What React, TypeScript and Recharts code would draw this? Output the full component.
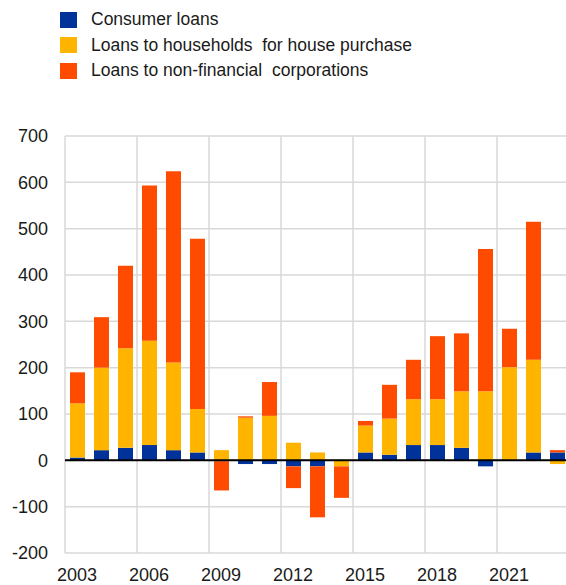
import { BarChart, Bar, XAxis, YAxis, CartesianGrid, ReferenceLine } from 'recharts'

const years = [
  '2003', '2004', '2005', '2006', '2007', '2008', '2009', '2010', '2011', '2012', '2013',
  '2014', '2015', '2016', '2017', '2018', '2019', '2020', '2021', '2022', '2023',
]
const consumerLoans = [6, 22, 27, 33, 22, 17, -2, -8, -8, -13, -13, 0, 17, 12, 33, 33, 27, -13, 1, 17, 17]
const housePurchase = [117, 178, 215, 225, 189, 94, 22, 92, 96, 38, 17, -13, 58, 78, 99, 99, 122, 149, 200, 200, -8]
const corporations = [67, 109, 178, 335, 413, 367, -63, 3, 73, -47, -110, -68, 10, 73, 85, 136, 125, 307, 83, 298, 5]
const yTicks = [-200, -100, 0, 100, 200, 300, 400, 500, 600, 700]

const seriesNames = ['Consumer loans', 'Loans to households  for house purchase', 'Loans to non-financial  corporations']
const colors = ['#003299', '#ffb400', '#ff4b00']

const data = years.map((year, i) => ({
  year,
  consumer: consumerLoans[i],
  house: housePurchase[i],
  nfc: corporations[i],
}))

const font = '"Liberation Sans", Arial, sans-serif'

function Legend() {
  return (
    <div style={{ position: 'absolute', left: 60, top: 7, fontFamily: font, fontSize: 17.5, color: '#1a1a1a' }}>
      {seriesNames.map((name, i) => (
        <div key={name} style={{ display: 'flex', alignItems: 'center', height: 25.5, whiteSpace: 'pre' }}>
          <span style={{ width: 17, height: 16, background: colors[i], marginRight: 14, flexShrink: 0 }} />
          {name}
        </div>
      ))}
    </div>
  )
}

export default function App() {
  const tick = { fontSize: 18, fill: '#1a1a1a', fontFamily: font }
  return (
    <div style={{ position: 'absolute', left: 0, top: 0, width: 566, height: 585, overflow: 'hidden', background: '#fff' }}>
      <Legend />
      <BarChart
        width={569}
        height={585}
        data={data}
        stackOffset="sign"
        barSize={15}
        margin={{ top: 136, right: 0, left: 0, bottom: 0 }}
      >
        <CartesianGrid
          stroke="#d9d9d9"
          strokeWidth={1.5}
          verticalCoordinatesGenerator={({ offset }: any) =>
            [0, 1, 2, 3, 4, 5, 6, 7].map((i) => offset.left + (i * 3 * offset.width) / years.length)
          }
        />
        <XAxis
          dataKey="year"
          interval={2}
          tick={tick}
          axisLine={false}
          tickLine={false}
          tickMargin={9}
          height={32}
        />
        <YAxis
          domain={[-200, 700]}
          ticks={yTicks}
          tick={tick}
          axisLine={false}
          tickLine={false}
          tickMargin={11}
          width={65}
        />
        <Bar dataKey="consumer" stackId="a" fill={colors[0]} isAnimationActive={false} />
        <Bar dataKey="house" stackId="a" fill={colors[1]} isAnimationActive={false} />
        <Bar dataKey="nfc" stackId="a" fill={colors[2]} isAnimationActive={false} />
        <ReferenceLine y={0} stroke="#000" strokeWidth={2} />
      </BarChart>
    </div>
  )
}
